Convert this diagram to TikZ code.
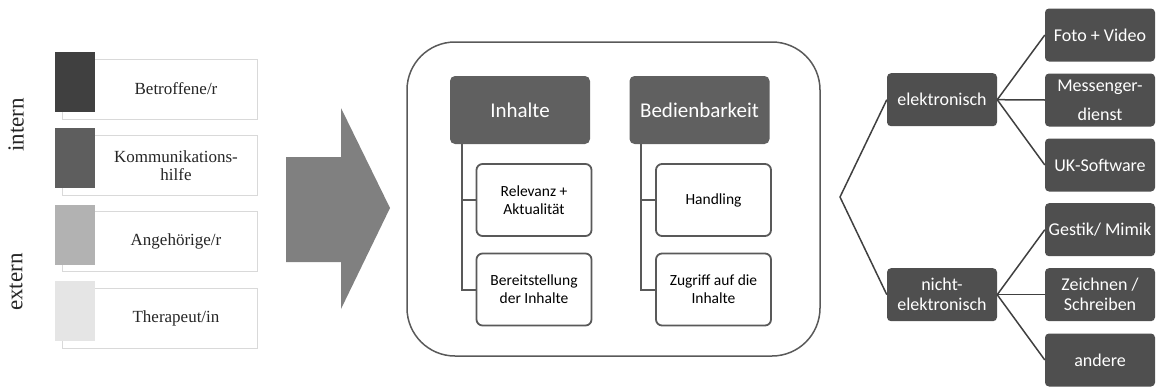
\documentclass[tikz,border=0pt]{standalone}
\usepackage{fontspec}
\setmainfont{Liberation Serif}
\setsansfont{Carlito}
\usepackage{tikz}
\usetikzlibrary{positioning, calc}

\definecolor{swatchA}{HTML}{404040}
\definecolor{swatchB}{HTML}{5E5E5E}
\definecolor{swatchC}{HTML}{B2B2B2}
\definecolor{swatchD}{HTML}{E5E5E5}
\definecolor{frameline}{HTML}{D9D9D9}
\definecolor{boxline}{HTML}{595959}
\definecolor{headfill}{HTML}{606060}
\definecolor{leaffill}{HTML}{4F4F4F}
\definecolor{arrowfill}{HTML}{808080}

\begin{document}
\begin{tikzpicture}[
    x=1pt, y=-1pt,
    party/.style={rectangle, draw=frameline, fill=white, line width=1pt, minimum width=195pt, minimum height=60pt, inner sep=0pt},
    swatch/.style={rectangle, minimum width=40pt, minimum height=60pt, inner sep=0pt},
    partytext/.style={align=center, text=black!85, font=\fontsize{17}{18}\selectfont},
    side/.style={rotate=90, text=black!85, font=\fontsize{23}{26}\selectfont},
    bigframe/.style={rectangle, rounded corners=48pt, draw=boxline, line width=1.5pt, minimum width=413pt, minimum height=314pt},
    header/.style={rectangle, rounded corners=5pt, fill=headfill, text=white, minimum width=140pt, minimum height=68pt, font=\sffamily\fontsize{21}{24}\selectfont},
    child/.style={rectangle, rounded corners=6pt, draw=boxline, fill=white, line width=1.8pt, minimum width=115pt, minimum height=72pt, align=center, font=\sffamily\fontsize{15.5}{18}\selectfont},
    branch/.style={rectangle, rounded corners=4pt, fill=leaffill, text=white, minimum width=110pt, minimum height=53pt, inner sep=1pt, align=center, font=\sffamily\fontsize{18}{20}\selectfont},
    tree/.style={draw=boxline, line width=2pt},
    link/.style={draw=black!75, line width=1.5pt}
]
\useasboundingbox (0,0) rectangle (1158,388);

% Left panel
\node (intern) [side] at (16,125) {intern};
\node (extern) [side] at (16,282) {extern};

\node (p1) [party] at (159.5,89) {};
\node (s1) [swatch, fill=swatchA] at (75,82) {};
\node (t1) [partytext] at (176,89) {Betroffene/r};

\node (p2) [party] at (159.5,165.7) {};
\node (s2) [swatch, fill=swatchB] at (75,158.3) {};
\node (t2) [partytext] at (176,165.7) {Kommunikations-\\hilfe};

\node (p3) [party] at (159.5,241.8) {};
\node (s3) [swatch, fill=swatchC] at (75,234.8) {};
\node (t3) [partytext] at (176,241.8) {Angehörige/r};

\node (p4) [party] at (159.5,318.5) {};
\node (s4) [swatch, fill=swatchD] at (75,311.2) {};
\node (t4) [partytext] at (176,318.5) {Therapeut/in};

% Big arrow
\fill [arrowfill] (286,157) -- (341,157) -- (341,108) -- (390,208) -- (341,309) -- (341,262) -- (286,262) -- cycle;

% Middle panel
\node (frame) [bigframe] at (613.5,199) {};
\node (inh) [header] at (520,110) {Inhalte};
\node (bed) [header] at (699.5,110) {Bedienbarkeit};
\node (rel) [child] at (534,200) {Relevanz +\\Aktualität};
\node (ber) [child] at (534,289.5) {Bereitstellung\\der Inhalte};
\node (han) [child] at (713.5,200) {Handling};
\node (zug) [child] at (713.5,289.5) {Zugriff auf die\\Inhalte};

\draw [tree] ([xshift=12pt]inh.south west) |- (rel.west);
\draw [tree] ([xshift=12pt]inh.south west) |- (ber.west);
\draw [tree] ([xshift=12pt]bed.south west) |- (han.west);
\draw [tree] ([xshift=12pt]bed.south west) |- (zug.west);

% Right panel
\coordinate (fork) at (840,197);
\node (ele) [branch] at (942,99.7) {elektronisch};
\node (nel) [branch] at (942,294.7) {nicht-\\elektronisch};
\node (foto) [branch] at (1100,35) {Foto + Video};
\node (msg) [branch, font=\sffamily\fontsize{18}{29}\selectfont] at (1100,100) {Messenger-\\dienst};
\node (uks) [branch] at (1100,165) {UK-Software};
\node (ges) [branch] at (1100,229.7) {Gestik/ Mimik};
\node (zei) [branch] at (1100,294.7) {Zeichnen /\\Schreiben};
\node (and) [branch] at (1100,360) {andere};

\draw [link] (ele.west) -- (fork) -- (nel.west);
\draw [link] (ele.east) -- (foto.west);
\draw [link] (ele.east) -- (msg.west);
\draw [link] (ele.east) -- (uks.west);
\draw [link] (nel.east) -- (ges.west);
\draw [link] (nel.east) -- (zei.west);
\draw [link] (nel.east) -- (and.west);

\end{tikzpicture}
\end{document}
